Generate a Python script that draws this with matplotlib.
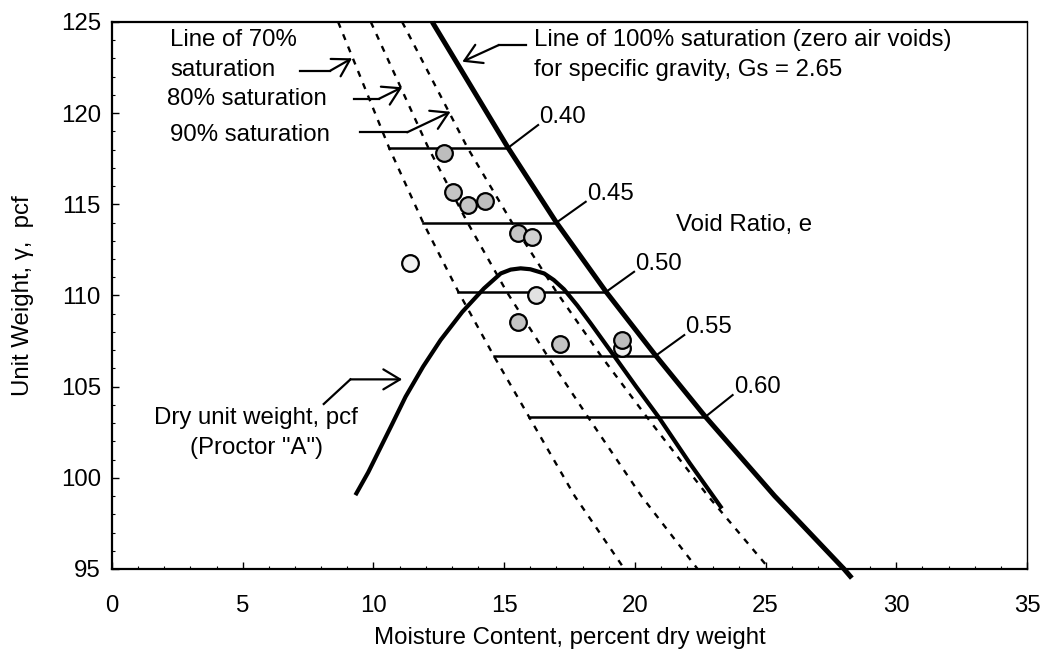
import matplotlib.pyplot as plt
from matplotlib.ticker import MultipleLocator

plt.rcParams['font.family'] = ['Liberation Sans', 'DejaVu Sans']
plt.rcParams['font.size'] = 17.3

# saturation lines: unit weight levels and moisture contents
sat_gamma = [125.0, 118.1, 114.0, 110.2, 106.7, 103.35, 99.0, 95.0]
w_70 = [8.65, 10.6, 11.9, 13.25, 14.6, 15.95, 17.7, 19.6]
w_80 = [9.9, 12.1, 13.6, 15.1, 16.65, 18.2, 20.25, 22.4]
w_90 = [11.1, 13.6, 15.3, 17.0, 18.7, 20.45, 22.8, 25.15]
w_100 = [12.25, 15.15, 17.0, 18.9, 20.8, 22.7, 25.35, 28.0]

# void ratio lines
void_labels = ['0.40', '0.45', '0.50', '0.55', '0.60']
void_gamma = [118.1, 114.0, 110.2, 106.7, 103.35]
void_w_start = [10.6, 11.9, 13.25, 14.6, 15.95]
void_w_end = [15.15, 17.0, 18.9, 20.8, 22.7]
leader_w = [16.3, 18.12, 19.97, 21.89, 23.74]
leader_gamma = [119.35, 115.14, 111.3, 107.83, 104.54]

# compaction curve (Proctor "A")
proctor_w = [9.31, 9.8, 10.7, 11.23, 11.9, 12.57, 13.4, 14.23, 14.87, 15.25, 15.63,
             16.0, 16.53, 16.9, 17.29, 17.8, 18.31, 19.2, 20.05, 20.9, 22.1, 23.33]
proctor_gamma = [99.05, 100.3, 102.9, 104.45, 106.1, 107.56, 109.1, 110.39, 111.21, 111.42, 111.49,
                 111.44, 111.21, 110.85, 110.34, 109.45, 108.47, 106.7, 105.0, 103.35, 100.8, 98.32]

# test points
test_w = [12.69, 13.03, 13.63, 14.25, 15.53, 16.07, 11.38, 16.23, 15.54, 17.13, 19.49, 19.49]
test_gamma = [117.83, 115.67, 114.96, 115.2, 113.41, 113.19, 111.8, 110.01, 108.54, 107.35, 107.13, 107.54]
test_fill = ['#bdbdbd', '#c4c4c4', '#c4c4c4', '#bdbdbd', '#c4c4c4', '#d0d0d0',
             '#f2f2f2', '#e2e2e2', '#c4c4c4', '#c4c4c4', '#f0f0f0', '#bdbdbd']

fig = plt.figure(figsize=(10.57, 6.54), dpi=100)
ax = fig.add_axes([112 / 1057, 1 - 569 / 654, (1027 - 112) / 1057, (569 - 22) / 654])

dash = (2.6, 3.0)
for w in (w_70, w_80, w_90):
    ax.plot(w, sat_gamma, color='black', lw=1.7, dashes=dash, zorder=2)
ax.plot(w_100 + [28.3], sat_gamma + [94.5], color='black', lw=3.6,
        solid_capstyle='butt', clip_on=False, zorder=3)

for i in range(len(void_labels)):
    ax.plot([void_w_start[i], void_w_end[i]], [void_gamma[i]] * 2, color='black', lw=1.8, zorder=2)
    ax.plot([void_w_end[i], leader_w[i]], [void_gamma[i], leader_gamma[i]], color='black', lw=1.5, zorder=2)
    ax.text(leader_w[i] + 0.05, leader_gamma[i] + 0.45, void_labels[i], ha='left', va='center')

ax.plot(proctor_w, proctor_gamma, color='black', lw=3.0, solid_capstyle='butt',
        solid_joinstyle='round', zorder=3)

for i in range(len(test_w)):
    ax.plot(test_w[i], test_gamma[i], 'o', ms=12, mfc=test_fill[i], mec='black', mew=1.6, zorder=5)

ax.text(21.57, 113.86, 'Void Ratio, e', ha='left', va='center')


def leader(points, tip):
    xs = [p[0] for p in points]
    ys = [p[1] for p in points]
    ax.plot(xs, ys, color='black', lw=1.6, zorder=4)
    ax.annotate('', xy=tip, xytext=points[-1],
                arrowprops=dict(arrowstyle='->, head_length=0.5, head_width=0.3', lw=1.6,
                                color='black', mutation_scale=24, shrinkA=0, shrinkB=0), zorder=4)


ax.text(2.22, 124.0, 'Line of 70%', ha='left', va='center')
ax.text(2.22, 122.37, 'saturation', ha='left', va='center')
leader([(7.2, 122.33), (8.35, 122.33)], (9.18, 123.01))

ax.text(2.1, 120.78, '80% saturation', ha='left', va='center')
leader([(9.24, 120.78), (10.2, 120.78)], (11.1, 121.42))

ax.text(2.22, 118.8, '90% saturation', ha='left', va='center')
leader([(9.5, 118.95), (11.29, 118.95)], (12.95, 120.08))

ax.text(16.14, 124.0, 'Line of 100% saturation (zero air voids)', ha='left', va='center')
ax.text(16.14, 122.37, 'for specific gravity, Gs = 2.65', ha='left', va='center')
leader([(15.82, 123.74), (14.8, 123.74)], (13.4, 122.82))

ax.text(5.51, 103.26, 'Dry unit weight, pcf', ha='center', va='center')
ax.text(5.51, 101.62, '(Proctor "A")', ha='center', va='center')
leader([(8.1, 104.05), (9.12, 105.4)], (11.1, 105.4))

ax.set_xlim(0, 35)
ax.set_ylim(95, 125)
ax.xaxis.set_major_locator(MultipleLocator(5))
ax.xaxis.set_minor_locator(MultipleLocator(1))
ax.yaxis.set_major_locator(MultipleLocator(5))
ax.yaxis.set_minor_locator(MultipleLocator(1))
ax.tick_params(which='both', direction='in', top=False, right=False, labelsize=17.3)
ax.tick_params(which='major', length=5, width=1)
ax.tick_params(which='minor', length=2.5, width=0.8)
ax.tick_params(axis='y', which='major', pad=8)
ax.tick_params(axis='x', which='major', pad=19)
for side in ('left', 'bottom', 'top'):
    ax.spines[side].set_linewidth(1.6)
ax.spines['right'].set_linewidth(1.0)

ax.set_xlabel('Moisture Content, percent dry weight', fontsize=17.3, labelpad=7)
ax.set_ylabel('Unit Weight, γ,  pcf', fontsize=17.3, labelpad=19)

fig.savefig('out.png', dpi=100)
